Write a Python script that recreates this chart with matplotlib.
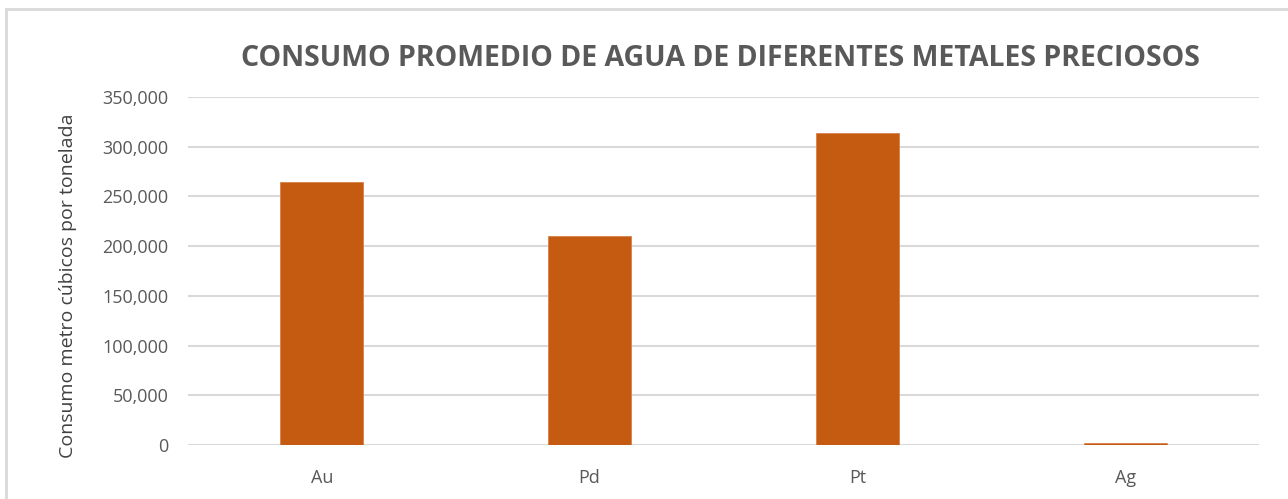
import matplotlib.pyplot as plt
from matplotlib.patches import Rectangle
from matplotlib.ticker import FuncFormatter

metales = ['Au', 'Pd', 'Pt', 'Ag']
consumo = [265000, 210000, 314000, 1800]
y_ticks = [0, 50000, 100000, 150000, 200000, 250000, 300000, 350000]

plt.rcParams['font.family'] = ['Open Sans', 'DejaVu Sans']

fig = plt.figure(figsize=(12.88, 4.99), dpi=100)
ax = fig.add_axes([188 / 1288, 1 - 445 / 499, 1071 / 1288, 348 / 499])

# marco del grafico
fig.patches.append(Rectangle((6 / 1288, -0.1), 1.2, 1 - 9 / 499 + 0.1, transform=fig.transFigure,
                             fill=False, edgecolor='#d9d9d9', linewidth=2))

x = range(len(metales))
ax.bar(x, consumo, width=0.31, color='#c55a11', edgecolor='#d9824a', linewidth=0.6, zorder=3)

ax.set_xlim(-0.5, len(metales) - 0.5)
ax.set_ylim(0, 350000)
ax.set_yticks(y_ticks)
ax.yaxis.set_major_formatter(FuncFormatter(lambda v, p: f'{int(v):,}'))
ax.set_xticks(list(x))
ax.set_xticklabels(metales)
ax.grid(axis='y', color='#d9d9d9', linewidth=1.5, zorder=0)
ax.tick_params(length=0, colors='#595959', labelsize=13)
ax.tick_params(axis='x', pad=17)
ax.tick_params(axis='y', pad=14)
for s in ax.spines.values():
    s.set_visible(False)

ax.set_ylabel('Consumo metro cúbicos por tonelada', fontsize=14, color='#404040')
ax.yaxis.set_label_coords((77 - 188) / 1071, (445 - 286) / 348)
fig.text(720 / 1288, 1 - 59 / 499, 'CONSUMO PROMEDIO DE AGUA DE DIFERENTES METALES PRECIOSOS',
         ha='center', va='center', fontsize=20.5, fontweight='bold', color='#595959')

plt.savefig('out.png', dpi=100)
